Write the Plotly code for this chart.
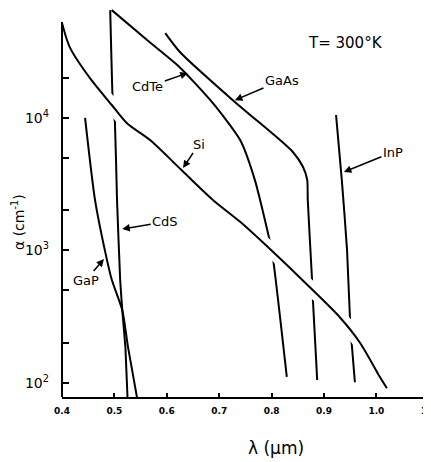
import math
import plotly.graph_objects as go

# Wavelength (um) and absorption coefficient alpha (cm^-1)
si_wl = [0.400, 0.415, 0.453, 0.495, 0.524, 0.568, 0.629, 0.688, 0.740, 0.803, 0.868, 0.931, 0.969, 1.007, 1.020]
si_alpha = [52000, 34000, 20000, 12500, 9100, 6800, 4000, 2400, 1640, 970, 550, 310, 200, 110, 91]

cdte_wl = [0.495, 0.568, 0.625, 0.688, 0.740, 0.768, 0.797, 0.803, 0.829]
cdte_alpha = [65000, 37000, 24000, 12900, 6800, 3400, 1150, 850, 111]

gaas_wl = [0.597, 0.625, 0.726, 0.816, 0.841, 0.860, 0.868, 0.869, 0.877, 0.879, 0.887]
gaas_alpha = [43600, 31400, 13600, 6800, 5500, 4260, 3400, 2400, 620, 410, 105]

inp_wl = [0.923, 0.934, 0.944, 0.950, 0.959]
inp_alpha = [10500, 3390, 1000, 282, 101]

cds_wl = [0.492, 0.497, 0.501, 0.505, 0.511, 0.515, 0.521, 0.525]
cds_alpha = [65000, 12500, 9300, 2400, 600, 354, 186, 78]

gap_wl = [0.444, 0.463, 0.486, 0.495, 0.515, 0.526, 0.543]
gap_alpha = [10000, 2400, 840, 600, 354, 186, 78]

x_ticks = [0.4, 0.5, 0.6, 0.7, 0.8, 0.9, 1.0, 1.1]
x_ticktext = ["0.4", "0.5", "0.6", "0.7", "0.8", "0.9", "1.0", "1.1"]
y_ticks = [100, 200, 500, 1000, 2000, 5000, 10000, 20000]
y_ticktext = ["10<sup>2</sup>", "", "", "10<sup>3</sup>", "", "", "10<sup>4</sup>", ""]

FONT = "DejaVu Sans"

fig = go.Figure()
curves = [(gap_wl, gap_alpha, 0.6), (cds_wl, cds_alpha, 0.3), (cdte_wl, cdte_alpha, 0.6),
          (gaas_wl, gaas_alpha, 0.6), (inp_wl, inp_alpha, 0.5)]
for wl, a, sm in curves:
    fig.add_trace(go.Scatter(x=wl, y=a, mode="lines",
                             line=dict(color="black", width=2, shape="spline", smoothing=sm),
                             hoverinfo="skip", showlegend=False))
# white halo so crossing curves are broken where they meet Si
fig.add_trace(go.Scatter(x=si_wl, y=si_alpha, mode="lines",
                         line=dict(color="white", width=14, shape="spline", smoothing=0.8),
                         hoverinfo="skip", showlegend=False))
fig.add_trace(go.Scatter(x=si_wl, y=si_alpha, mode="lines",
                         line=dict(color="black", width=2, shape="spline", smoothing=0.8),
                         hoverinfo="skip", showlegend=False))

labels = [
    # text, head wavelength, head alpha, ax, ay
    ("CdTe", 0.640, 21800, -40, 14),
    ("GaAs", 0.730, 13600, 47, -20),
    ("Si", 0.631, 4180, 16, -24),
    ("InP", 0.938, 3900, 49, -20),
    ("CdS", 0.515, 1450, 43, -7),
    ("GaP", 0.480, 860, -18, 21),
]
for text, hx, ha, ax, ay in labels:
    fig.add_annotation(x=hx, y=math.log10(ha), xref="x", yref="y", text=text,
                       showarrow=True, ax=ax, ay=ay, arrowhead=2, arrowsize=1,
                       arrowwidth=1.5, arrowcolor="black", standoff=0,
                       font=dict(family=FONT, size=13, color="black"))

fig.add_annotation(x=0.767, y=0.910, xref="paper", yref="paper", text="T= 300°K",
                   xanchor="center", yanchor="middle",
                   showarrow=False, font=dict(family=FONT, size=15, color="black"))
fig.add_annotation(x=0.58, y=-0.131, xref="paper", yref="paper", text="λ (μm)",
                   xanchor="center", yanchor="middle",
                   showarrow=False, font=dict(family=FONT, size=17, color="black"))
fig.add_annotation(x=-0.119, y=0.45, xref="paper", yref="paper", text="α (cm<sup>-1</sup>)",
                   xanchor="center", yanchor="middle", textangle=-90, showarrow=False,
                   font=dict(family=FONT, size=14, color="black"))

# left axis line (plot area extends above it so curves are not clipped)
fig.add_shape(type="line", xref="paper", yref="paper", x0=0, x1=0, y0=0, y1=0.964,
              line=dict(color="black", width=2), layer="above")

# the page body adds an 8px offset, so the figure is 8px smaller than the window
fig.update_layout(
    width=423, height=454,
    margin=dict(l=54, r=0, t=0, b=65, pad=0, autoexpand=False),
    plot_bgcolor="white", paper_bgcolor="white",
    showlegend=False,
    xaxis=dict(range=[0.4, 1.1042], tickvals=x_ticks, ticktext=x_ticktext,
               showline=True, linecolor="black", linewidth=2, ticks="inside",
               ticklen=4, tickwidth=2, tickcolor="black", showgrid=False,
               zeroline=False, ticklabelstandoff=4, ticklabeloverflow="allow",
               tickfont=dict(family=FONT, size=9, color="black", weight="bold")),
    yaxis=dict(type="log", range=[1.893, 4.829], tickvals=y_ticks, ticktext=y_ticktext,
               showline=False, ticks="inside", ticklen=7, tickwidth=2,
               tickcolor="black", showgrid=False, zeroline=False,
               ticklabelstandoff=12,
               tickfont=dict(family=FONT, size=14, color="black")),
)

fig.write_html("out.html")
